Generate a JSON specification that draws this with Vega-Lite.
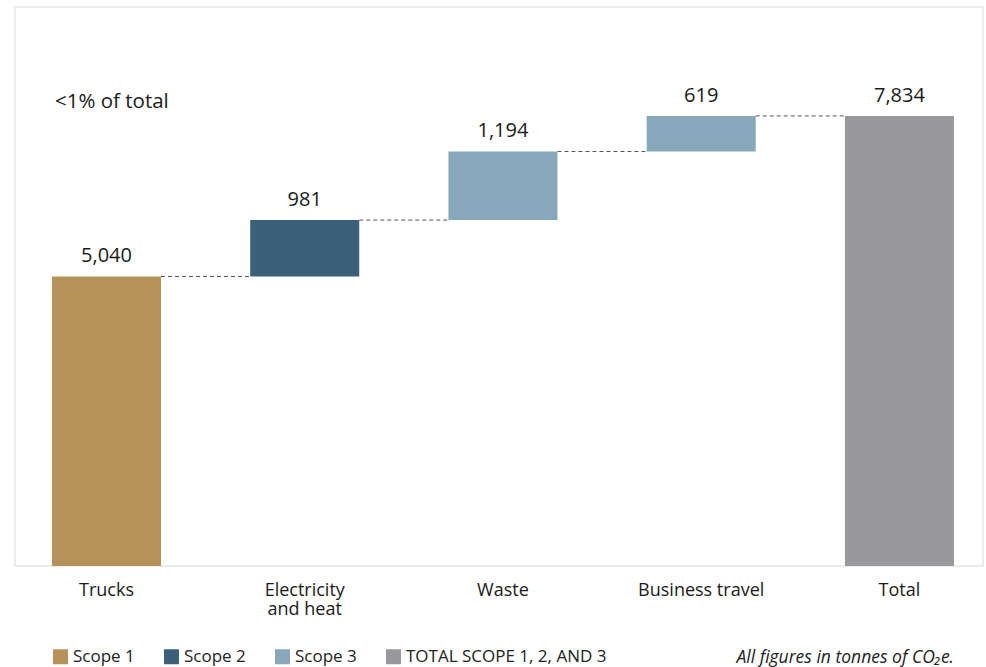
{
  "$schema": "https://vega.github.io/schema/vega-lite/v6.json",
  "autosize": "none",
  "width": 968,
  "height": 559,
  "padding": {"left": 15, "top": 7, "right": 3, "bottom": 101},
  "background": "white",
  "config": {
    "font": "Open Sans",
    "view": {"stroke": "#e6e6e6", "strokeWidth": 1.5}
  },
  "title": {
    "text": "All figures in tonnes of CO₂e.",
    "orient": "bottom",
    "anchor": "end",
    "fontStyle": "italic",
    "fontWeight": "normal",
    "fontSize": 17.5,
    "color": "#222222",
    "offset": -16,
    "dx": -29
  },
  "datasets": {
    "bars": [
      {"category": "Trucks", "start": 0, "end": 5040, "scope": "Scope 1", "label": "5,040"},
      {"category": "Electricity and heat", "start": 5040, "end": 6021, "scope": "Scope 2", "label": "981"},
      {"category": "Waste", "start": 6021, "end": 7215, "scope": "Scope 3", "label": "1,194"},
      {"category": "Business travel", "start": 7215, "end": 7834, "scope": "Scope 3", "label": "619"},
      {"category": "Total", "start": 0, "end": 7834, "scope": "TOTAL SCOPE 1, 2, AND 3", "label": "7,834"}
    ],
    "links": [
      {"from": "Trucks", "to": "Electricity and heat", "level": 5040},
      {"from": "Electricity and heat", "to": "Waste", "level": 6021},
      {"from": "Waste", "to": "Business travel", "level": 7215},
      {"from": "Business travel", "to": "Total", "level": 7834}
    ],
    "notes": [
      {"category": "Trucks", "level": 7972, "text": "<1% of total"}
    ]
  },
  "layer": [
    {
      "data": {"name": "bars"},
      "mark": {"type": "bar"},
      "encoding": {
        "x": {
          "field": "category",
          "type": "nominal",
          "sort": null,
          "scale": {"paddingInner": 0.45, "paddingOuter": 0.1665, "align": 0.56},
          "axis": {
            "title": null,
            "domain": false,
            "ticks": false,
            "labelAngle": 0,
            "labelFontSize": 18,
            "labelColor": "#1a1a1a",
            "labelPadding": 15,
            "labelBaseline": "top",
            "labelLineHeight": 19,
            "labelExpr": "datum.value == 'Electricity and heat' ? ['Electricity', 'and heat'] : datum.label"
          }
        },
        "y": {
          "field": "start",
          "type": "quantitative",
          "scale": {"domain": [0, 9730], "nice": false},
          "axis": null
        },
        "y2": {"field": "end"},
        "color": {
          "field": "scope",
          "type": "nominal",
          "scale": {
            "domain": ["Scope 1", "Scope 2", "Scope 3", "TOTAL SCOPE 1, 2, AND 3"],
            "range": ["#b59257", "#3a607a", "#87a7bb", "#99999d"]
          },
          "legend": {
            "title": null,
            "orient": "none",
            "direction": "horizontal",
            "legendX": 37,
            "legendY": 641,
            "padding": 0,
            "symbolType": "square",
            "symbolSize": 225,
            "symbolStrokeWidth": 0,
            "symbolOpacity": 1,
            "labelFontSize": 17,
            "labelLimit": 400,
            "labelColor": "#222222",
            "labelOffset": 4,
            "columnPadding": 28
          }
        }
      }
    },
    {
      "data": {"name": "links"},
      "mark": {"type": "rule", "strokeDash": [4, 3], "strokeWidth": 1, "color": "#555555"},
      "encoding": {
        "x": {"field": "from", "type": "nominal", "sort": null, "bandPosition": 1},
        "x2": {"field": "to", "bandPosition": 0},
        "y": {"field": "level", "type": "quantitative"}
      }
    },
    {
      "data": {"name": "bars"},
      "mark": {"type": "text", "fontSize": 20, "color": "#1a1a1a", "baseline": "alphabetic", "dy": -14},
      "encoding": {
        "x": {"field": "category", "type": "nominal", "sort": null},
        "y": {"field": "end", "type": "quantitative"},
        "text": {"field": "label"}
      }
    },
    {
      "data": {"name": "notes"},
      "mark": {"type": "text", "fontSize": 20.5, "color": "#1a1a1a", "align": "left", "baseline": "alphabetic", "dx": 3},
      "encoding": {
        "x": {"field": "category", "type": "nominal", "sort": null, "bandPosition": 0},
        "y": {"field": "level", "type": "quantitative"},
        "text": {"field": "text"}
      }
    }
  ]
}
